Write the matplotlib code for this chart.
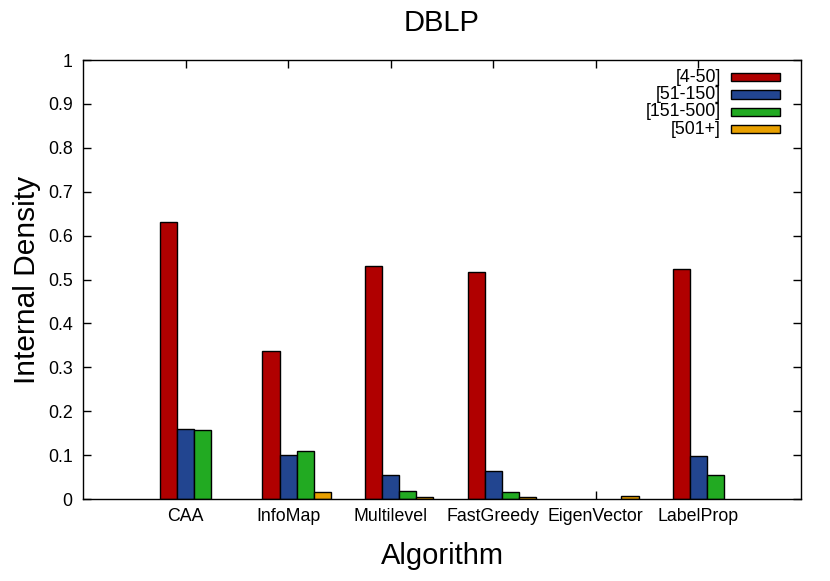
import numpy as np
import matplotlib
matplotlib.use("Agg")
import matplotlib.pyplot as plt
from matplotlib.patches import Rectangle

plt.rcParams['font.family'] = ['Liberation Sans', 'DejaVu Sans']

algorithms = ["CAA", "InfoMap", "Multilevel", "FastGreedy", "EigenVector", "LabelProp"]
size_ranges = ["[4-50]", "[51-150]", "[151-500]", "[501+]"]
density_4_50 = [0.630, 0.337, 0.531, 0.517, 0.0, 0.524]
density_51_150 = [0.160, 0.100, 0.055, 0.064, 0.0, 0.099]
density_151_500 = [0.158, 0.110, 0.019, 0.016, 0.0, 0.054]
density_501_plus = [0.0, 0.015, 0.004, 0.004, 0.007, 0.0]
y_ticks = [0, 0.1, 0.2, 0.3, 0.4, 0.5, 0.6, 0.7, 0.8, 0.9, 1]
y_tick_labels = ["0", "0.1", "0.2", "0.3", "0.4", "0.5", "0.6", "0.7", "0.8", "0.9", "1"]

series = [density_4_50, density_51_150, density_151_500, density_501_plus]
colors = ["#b00000", "#224590", "#22aa22", "#e8a000"]

fig = plt.figure(figsize=(8.3, 5.81), dpi=100)
ax = fig.add_axes([0.1, 0.1411, 0.865, 0.7556])

x = np.arange(len(algorithms))
width = 1 / 6
for j, (vals, col) in enumerate(zip(series, colors)):
    vals = np.array(vals)
    keep = vals > 0  # zero bars are invisible in the original
    ax.bar(x[keep] + (j - 1) * width, vals[keep], width, color=col,
           edgecolor="black", linewidth=1, zorder=2)

ax.set_xlim(-1, 6)
ax.set_ylim(0, 1)
ax.set_xticks(x)
ax.set_xticklabels(algorithms, fontsize=12.8)
ax.set_yticks(y_ticks)
ax.set_yticklabels(y_tick_labels, fontsize=12.8)
ax.tick_params(direction="in", length=5.5, width=1, top=True, right=True)
ax.tick_params(axis="x", pad=6.5)
ax.tick_params(axis="y", pad=7.5)
for s in ax.spines.values():
    s.set_linewidth(1)
    s.set_zorder(3)

ax.set_title("DBLP", fontsize=21, y=1.084, va="center", pad=0)
ax.set_ylabel("Internal Density", fontsize=21.5, va="center")
ax.yaxis.set_label_coords(-0.078, 0.5)
ax.set_xlabel("Algorithm", fontsize=21, va="center")
ax.xaxis.set_label_coords(0.5, -0.13)

# gnuplot style key: right aligned text, sample box on the right
row_y = 0.961
for lab, col in zip(size_ranges, colors):
    ax.add_patch(Rectangle((0.9025, row_y - 0.0095), 0.068, 0.019,
                           transform=ax.transAxes, facecolor=col,
                           edgecolor="black", linewidth=1, clip_on=False))
    ax.text(0.8886, row_y, lab, transform=ax.transAxes, ha="right",
            va="center", fontsize=12.8)
    row_y -= 0.0395

fig.savefig("out.png", dpi=100)
